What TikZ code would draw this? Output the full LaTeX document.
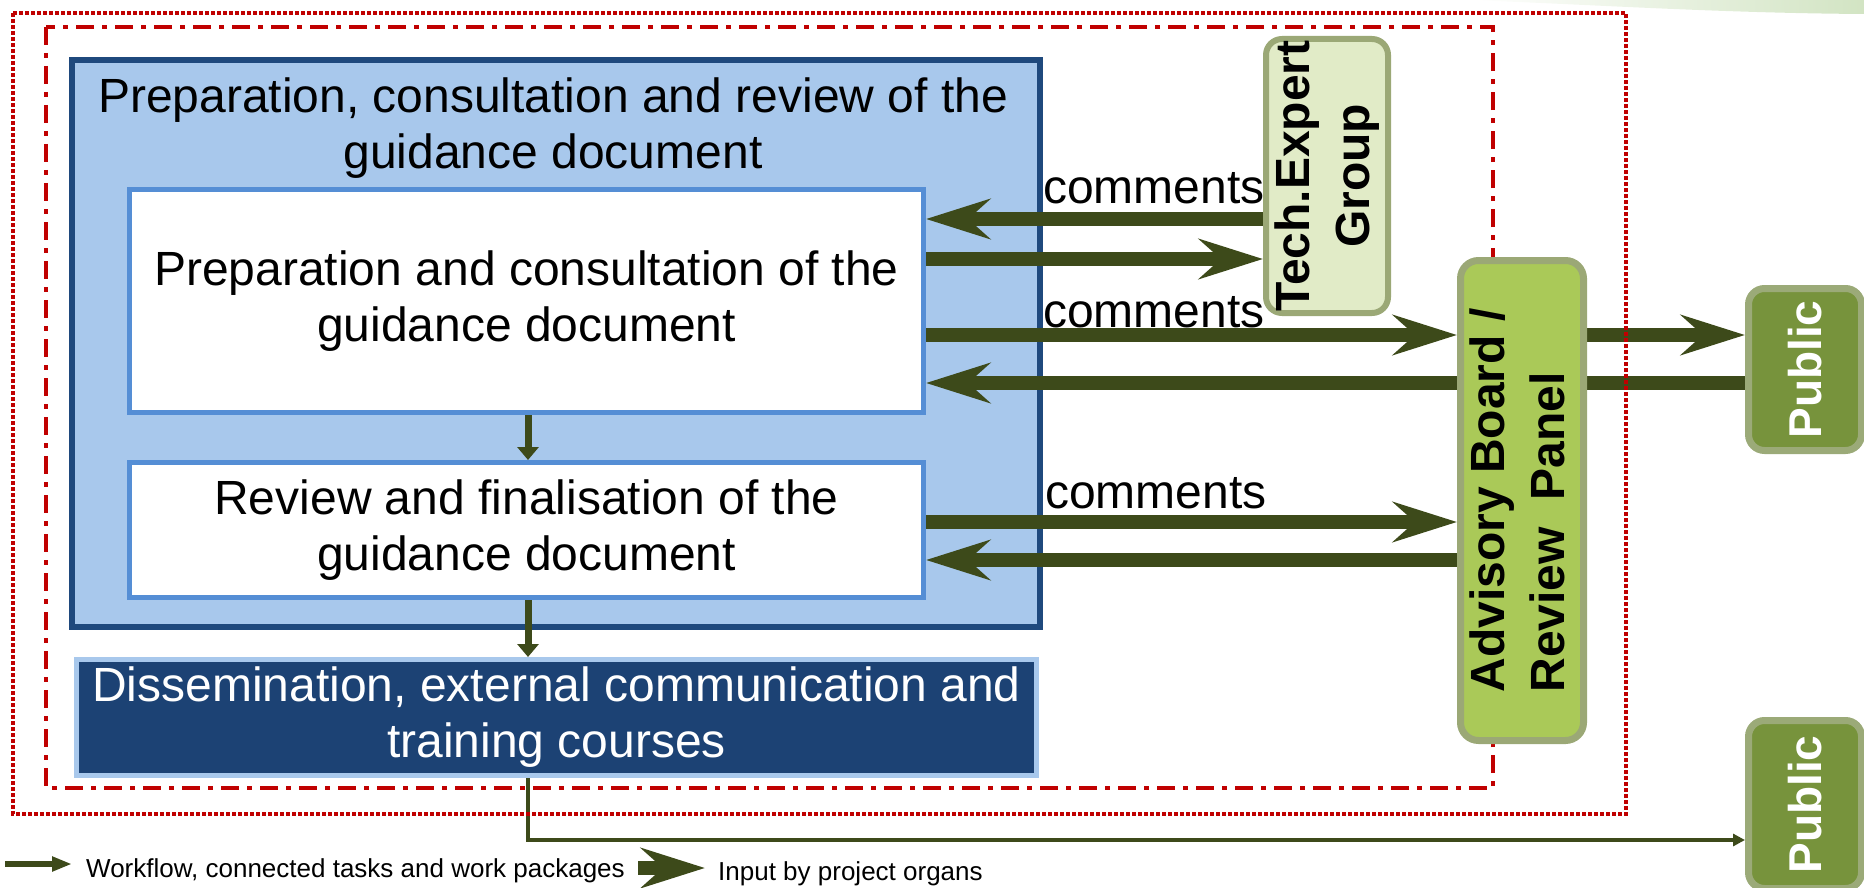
\documentclass[tikz,border=0pt]{standalone}
\usepackage{fontspec}
\usepackage{graphicx}
\setmainfont{Liberation Sans}
\usetikzlibrary{arrows.meta,calc}
\definecolor{navyline}{RGB}{31,73,125}
\definecolor{paleblue}{RGB}{168,200,236}
\definecolor{midblue}{RGB}{85,142,213}
\definecolor{dissfill}{RGB}{28,66,116}
\definecolor{techfill}{RGB}{225,235,199}
\definecolor{olivegrey}{RGB}{155,168,118}
\definecolor{advfill}{RGB}{170,201,88}
\definecolor{pubfill}{RGB}{119,147,60}
\definecolor{publine}{RGB}{155,170,120}
\definecolor{arrowgreen}{RGB}{61,74,26}
\definecolor{framered}{RGB}{192,0,0}
\definecolor{swoosh}{RGB}{210,228,195}
\newcommand\fsmain{\fontsize{48pt}{56pt}\selectfont}
\newcommand\fsbold{\fontsize{48pt}{60pt}\selectfont\bfseries}
\newcommand\fspub{\fontsize{46pt}{54pt}\selectfont\bfseries}
\newcommand\fsleg{\fontsize{26pt}{30pt}\selectfont}
\pgfdeclarelayer{back}
\pgfdeclarelayer{mid}
\pgfsetlayers{back,mid,main}
\tikzset{
  bigbox/.style={draw=navyline, line width=6pt, fill=paleblue, inner sep=0pt, anchor=north west},
  whitebox/.style={draw=midblue, line width=5pt, fill=white, inner sep=0pt, anchor=north west, align=center, font=\fsmain},
  dissbox/.style={draw=paleblue, line width=5pt, fill=dissfill, text=white, inner sep=0pt, anchor=north west, align=center, font=\fsmain},
  techbox/.style={draw=olivegrey, line width=6pt, fill=techfill, rounded corners=16pt, inner sep=0pt, anchor=north west, font=\fsbold},
  advbox/.style={draw=olivegrey, line width=7pt, fill=advfill, rounded corners=18pt, inner sep=0pt, anchor=north west, font=\fsbold},
  pubbox/.style={draw=publine, line width=7pt, fill=pubfill, text=white, rounded corners=16pt, inner sep=0pt, anchor=north west, font=\fspub},
  bigarrow/.style={draw=arrowgreen, line width=14pt, -{Stealth[length=64pt,width=40pt,inset=22pt]}},
  wfarrow/.style={draw=arrowgreen, line width=7pt, -{Triangle[length=13pt,width=21pt]}},
  thinarrow/.style={draw=arrowgreen, line width=4pt, -{Triangle[length=12pt,width=12pt]}},
  legarrow/.style={draw=arrowgreen, line width=6pt, -{Triangle[length=20pt,width=14pt]}},
  commentlbl/.style={font=\fsmain, inner sep=0pt, anchor=base west},
  leglbl/.style={font=\fsleg, inner sep=0pt, anchor=base west},
  dotframe/.style={draw=framered, line width=3.5pt, dash pattern=on 4pt off 2pt},
  dashdotframe/.style={draw=framered, line width=4pt, dash pattern=on 18pt off 8pt on 5pt off 8pt}
}
\begin{document}
\begin{tikzpicture}[x=1pt,y=-1pt]
\useasboundingbox (0,0) rectangle (1864,888);

% background swoosh and main container
\begin{pgfonlayer}{back}
  \shade[left color=white, right color=swoosh] (1470,0) .. controls (1600,5) and (1720,13) .. (1864,14) -- (1864,0) -- cycle;
  \node[bigbox, minimum width=968pt, minimum height=567pt] (big) at (69,57) {};
\end{pgfonlayer}

% frames
\draw[dotframe] (13,13) rectangle (1626,814);
\draw[dashdotframe] (46,27) rectangle (1493,788);

% nodes
\node[font=\fsmain, align=center, inner sep=0pt] (title) at (553,128)
  {Preparation, consultation and review of the\\guidance document};
\node[whitebox, minimum width=794pt, minimum height=223pt] (b1) at (127,187)
  {Preparation and consultation of the\\guidance document};
\node[whitebox, minimum width=794pt, minimum height=135pt] (b2) at (127,460)
  {Review and finalisation of the\\guidance document};
\node[dissbox, minimum width=960pt, minimum height=116pt] (diss) at (74,657)
  {Dissemination, external communication and\\training courses};
\node[techbox, minimum width=122pt, minimum height=274pt] (tech) at (1263,36)
  {\rotatebox{90}{\begin{tabular}{@{}c@{}}Tech.Expert\\Group\end{tabular}}};
\node[advbox, minimum width=123pt, minimum height=480pt] (adv) at (1457,257)
  {\rotatebox{90}{\begin{tabular}{@{}l@{}}Advisory Board /\\Review\ \ Panel\end{tabular}}};
\node[pubbox, minimum width=113pt, minimum height=162pt] (pub1) at (1745,285)
  {\rotatebox{90}{Public}};
\node[pubbox, minimum width=113pt, minimum height=168pt] (pub2) at (1745,717)
  {\rotatebox{90}{Public}};

% labels
\node[commentlbl] (c1) at (1043,204) {comments};
\node[commentlbl] (c2) at (1043,327) {comments};
\node[commentlbl] (c3) at (1045,508) {comments};
\node[leglbl] (lg1) at (86,877) {Workflow, connected tasks and work packages};
\node[leglbl] (lg2) at (718,880) {Input by project organs};

% helper coordinates
\coordinate (ya) at (0,219);
\coordinate (yb) at (0,259);
\coordinate (yc) at (0,335);
\coordinate (yd) at (0,383);
\coordinate (ye) at (0,522);
\coordinate (yf) at (0,560);
\coordinate (yg) at (0,840);
\coordinate (wf) at (528,0);
\coordinate (la) at (5,864);
\coordinate (lb) at (72,864);
\coordinate (lc) at (638,868);
\coordinate (ld) at (705,868);

\begin{pgfonlayer}{mid}
  \draw[bigarrow] (tech.west |- ya) -- (b1.east |- ya);
  \draw[bigarrow] (b1.east |- yb) -- (tech.west |- yb);
  \draw[bigarrow] (b1.east |- yc) -- (adv.west |- yc);
  \draw[bigarrow] (adv.east |- yc) -- (pub1.west |- yc);
  \draw[bigarrow] (pub1.west |- yd) -- (b1.east |- yd);
  \draw[bigarrow] (b2.east |- ye) -- (adv.west |- ye);
  \draw[bigarrow] (adv.west |- yf) -- (b2.east |- yf);
  \draw[wfarrow] (b1.south -| wf) -- (b2.north -| wf);
  \draw[wfarrow] (b2.south -| wf) -- (diss.north -| wf);
  \draw[thinarrow] (diss.south -| wf) |- (pub2.west |- yg);
  \draw[legarrow] (la) -- (lb);
  \draw[bigarrow] (lc) -- (ld);
\end{pgfonlayer}
\end{tikzpicture}
\end{document}
